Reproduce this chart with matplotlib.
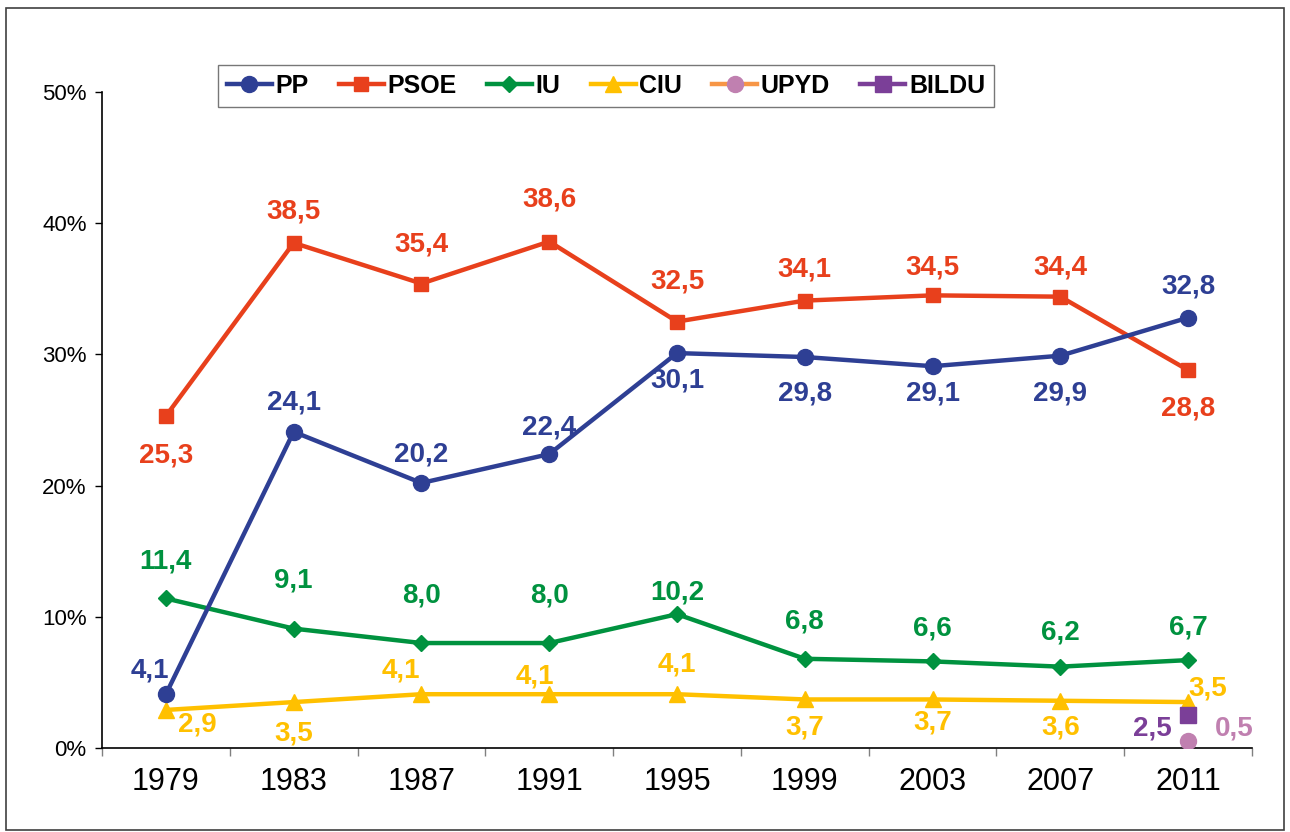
import numpy as np
import matplotlib.pyplot as plt
from matplotlib.patches import Rectangle

plt.rcParams['font.family'] = ['Liberation Sans', 'DejaVu Sans']

# ── data ─────────────────────────────────────────────
years = ['1979', '1983', '1987', '1991', '1995', '1999', '2003', '2007', '2011']
pp    = [4.1, 24.1, 20.2, 22.4, 30.1, 29.8, 29.1, 29.9, 32.8]
psoe  = [25.3, 38.5, 35.4, 38.6, 32.5, 34.1, 34.5, 34.4, 28.8]
iu    = [11.4, 9.1, 8.0, 8.0, 10.2, 6.8, 6.6, 6.2, 6.7]
ciu   = [2.9, 3.5, 4.1, 4.1, 4.1, 3.7, 3.7, 3.6, 3.5]
upyd  = [0.5]     # only 2011
bildu = [2.5]     # only 2011
y_ticks = [0, 10, 20, 30, 40, 50]

# ── label offsets (pixels: dx, dy up) ───────────────
off_pp   = [(-16, 24), (0, 29), (0, 28), (0, 27), (0, -27), (0, -36), (0, -27), (0, -38), (0, 31)]
off_psoe = [(0, -39), (0, 31), (0, 39), (0, 42), (0, 40), (0, 31), (0, 28), (0, 29), (0, -38)]
off_iu   = [(0, 37), (0, 48), (0, 48), (0, 48), (0, 22), (0, 37), (0, 33), (0, 34), (0, 33)]
off_ciu  = [(31, -15), (0, -31), (-21, 24), (-14, 18), (0, 30), (0, -28), (0, -23), (0, -27), (20, 14)]
off_upyd  = [(46, 13)]
off_bildu = [(-36, -13)]

C_PP, C_PSOE, C_IU, C_CIU = '#2E3F94', '#E8401C', '#00923F', '#FFC000'
C_UPYD_LINE, C_UPYD, C_BILDU = '#F79646', '#C080B0', '#7B3F98'

fig = plt.figure(figsize=(12.9, 8.32), dpi=100)
ax = fig.add_axes([102 / 1290, 1 - 748 / 832, 1150 / 1290, (748 - 92) / 832])

x = np.arange(len(years))
PX = 72 / 100  # pixels → points
LW = 3.2


def labels(xs, vals, offs, color):
    for xi, v, (dx, dy) in zip(xs, vals, offs):
        ax.annotate(f'{v:.1f}'.replace('.', ','), (xi, v),
                    xytext=(dx * PX, dy * PX), textcoords='offset points',
                    ha='center', va='center', color=color,
                    fontsize=20, fontweight='bold', zorder=5)


ax.plot(x, pp, color=C_PP, lw=LW, marker='o', ms=11.5, label='PP', zorder=4)
ax.plot(x, psoe, color=C_PSOE, lw=LW, marker='s', ms=9.5, label='PSOE', zorder=3)
ax.plot(x, iu, color=C_IU, lw=LW, marker='D', ms=8.5, label='IU', zorder=3)
ax.plot(x, ciu, color=C_CIU, lw=LW, marker='^', ms=11.5, label='CIU', zorder=3)
ax.plot(x[-1:], upyd, color=C_UPYD_LINE, lw=LW, marker='o', ms=11.5,
        mfc=C_UPYD, mec=C_UPYD, label='UPYD', zorder=4)
ax.plot(x[-1:], bildu, color=C_BILDU, lw=LW, marker='s', ms=11.5, label='BILDU', zorder=4)

labels(x, pp, off_pp, C_PP)
labels(x, psoe, off_psoe, C_PSOE)
labels(x, iu, off_iu, C_IU)
labels(x, ciu, off_ciu, C_CIU)
labels(x[-1:], upyd, off_upyd, C_UPYD)
labels(x[-1:], bildu, off_bildu, C_BILDU)

# ── axes ─────────────────────────────────────────────
ax.set_xlim(-0.5, len(years) - 0.5)
ax.set_ylim(0, 50)
ax.set_yticks(y_ticks)
ax.set_yticklabels([f'{t}%' for t in y_ticks], fontsize=16)
ax.set_xticks(x)
ax.set_xticklabels(years, fontsize=22)
ax.set_xticks(np.arange(-0.5, len(years)), minor=True)
ax.tick_params(axis='x', which='major', length=0, pad=14)
ax.tick_params(axis='x', which='minor', length=6, color='#808080', width=1)
ax.tick_params(axis='y', length=5, width=1, pad=6)
for s in ('top', 'right'):
    ax.spines[s].set_visible(False)
for s in ('left', 'bottom'):
    ax.spines[s].set_linewidth(1.2)

leg = fig.legend(loc='center', bbox_to_anchor=(606 / 1290, 1 - 86 / 832), ncol=6,
                 frameon=True, fancybox=False, edgecolor='#555555',
                 prop={'size': 18, 'weight': 'bold'}, handlelength=1.8,
                 handletextpad=0.15, columnspacing=1.2, borderpad=0.35)
leg.get_frame().set_linewidth(1.0)

# outer frame
fig.patches.append(Rectangle((6 / 1290, 2 / 832), 1278 / 1290, 822 / 832,
                             transform=fig.transFigure, fill=False,
                             edgecolor='#404040', lw=1.2))

fig.savefig('out.png', dpi=100)
